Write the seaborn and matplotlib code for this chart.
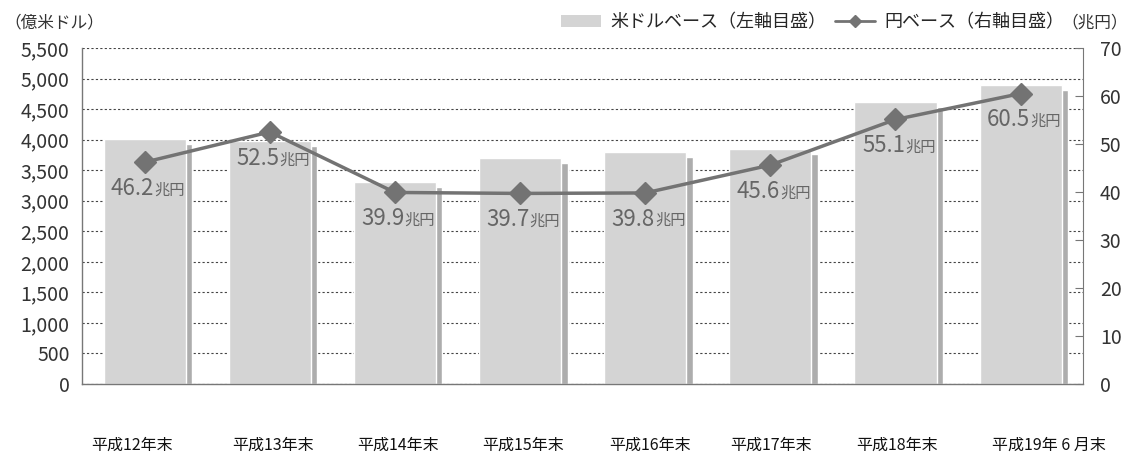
import numpy as np
import pandas as pd
import matplotlib
matplotlib.use("Agg")
import matplotlib.pyplot as plt
import matplotlib.transforms as mtransforms
import seaborn as sns
from matplotlib.lines import Line2D
from matplotlib.patches import Patch

# ==========================================
# DATOS
# ==========================================
categories = ["平成12年末", "平成13年末", "平成14年末", "平成15年末",
              "平成16年末", "平成17年末", "平成18年末", "平成19年 6 月末"]
usd_values = [4010, 3975, 3310, 3700, 3800, 3845, 4615, 4890]   # 億米ドル (左軸)
yen_values = [46.2, 52.5, 39.9, 39.7, 39.8, 45.6, 55.1, 60.5]   # 兆円 (右軸)
left_ticks = list(range(0, 5501, 500))
right_ticks = list(range(0, 71, 10))

df = pd.DataFrame({"cat": categories, "usd": usd_values, "yen": yen_values})

# ==========================================
# ESTILO
# ==========================================
sns.set_style("white")
plt.rcParams['font.family'] = ['Noto Sans CJK JP', 'DejaVu Sans']

BAR = "#d4d4d4"
SHADOW = "#adadad"
LINE = "#737373"
TXT = "#333333"

fig = plt.figure(figsize=(11.3, 4.68), dpi=100)
ax = fig.add_axes([0.0726, 0.1795, 0.886, 0.718])

x = np.arange(len(categories))

# sombra de las barras (detras)
ax.bar(x + 0.03, np.array(usd_values) - 80, width=0.70, color=SHADOW, zorder=1)
sns.barplot(data=df, x="cat", y="usd", color=BAR, width=0.656, saturation=1,
            ax=ax, zorder=2)

ax.set_xlim(-0.5, len(categories) - 0.5)
ax.set_ylim(0, 5500)
ax.set_yticks(left_ticks)
ax.set_yticklabels([f"{v:,}" for v in left_ticks], fontsize=14, color=TXT)
ax.set_xlabel("")
ax.set_ylabel("")
ax.yaxis.grid(True, linestyle=(0, (2, 2)), color="#444444", linewidth=0.8)
ax.set_axisbelow(True)
ax.tick_params(axis="y", length=0, pad=9)
ax.set_xticks(x)
ax.set_xticklabels(categories, fontsize=11.5, color="#111111")
ax.tick_params(axis="x", length=0, pad=38)
ax.set_xticks(np.arange(0.5, len(categories) - 0.5, 1), minor=True)
ax.tick_params(axis="x", which="minor", direction="in", length=6, color="#777777")

# pequeños desplazamientos de las etiquetas como en el original
shifts = [-13, 3, 3, 3, 5, 1, 2, 28]
for lbl, dx in zip(ax.get_xticklabels(), shifts):
    lbl.set_transform(lbl.get_transform() +
                      mtransforms.ScaledTranslation(dx / 100, 0, fig.dpi_scale_trans))

for s in ["top", "right"]:
    ax.spines[s].set_visible(False)
for s in ["left", "bottom"]:
    ax.spines[s].set_color("#777777")
    ax.spines[s].set_linewidth(1.0)

# eje derecho: yen
ax2 = ax.twinx()
ax2.plot(x, yen_values, color=LINE, linewidth=2.5, marker="D", markersize=11,
         zorder=5)
ax2.set_ylim(0, 70)
ax2.set_yticks(right_ticks)
ax2.set_yticklabels([str(v) for v in right_ticks], fontsize=14, color=TXT)
ax2.tick_params(axis="y", direction="in", length=6, color="#777777", pad=12)
for s in ["top", "left", "bottom"]:
    ax2.spines[s].set_visible(False)
ax2.spines["right"].set_color("#777777")

for xi, v in zip(x, yen_values):
    ax2.annotate(f"{v}", (xi, v), xytext=(7, -19), textcoords="offset points",
                 ha="right", va="center", fontsize=16, color="#666666", zorder=6)
    ax2.annotate("兆円", (xi, v), xytext=(7, -20), textcoords="offset points",
                 ha="left", va="center", fontsize=11, color="#666666", zorder=6)

# textos de ejes
fig.text(0.004, 0.952, "（億米ドル）", fontsize=12, color=TXT, va="center")
fig.text(0.998, 0.952, "（兆円）", fontsize=12, color=TXT, va="center", ha="right")

handles = [Patch(facecolor=BAR, edgecolor="none"),
           Line2D([0], [0], color=LINE, linewidth=2, marker="D", markersize=6)]
labels = ["米ドルベース（左軸目盛）", "円ベース（右軸目盛）"]
fig.legend(handles, labels, loc="center right", bbox_to_anchor=(0.948, 0.952),
           ncol=2, frameon=False, fontsize=13, handlelength=2.2,
           handletextpad=0.5, columnspacing=0.5, borderaxespad=0)

fig.savefig("out.png", dpi=100)
